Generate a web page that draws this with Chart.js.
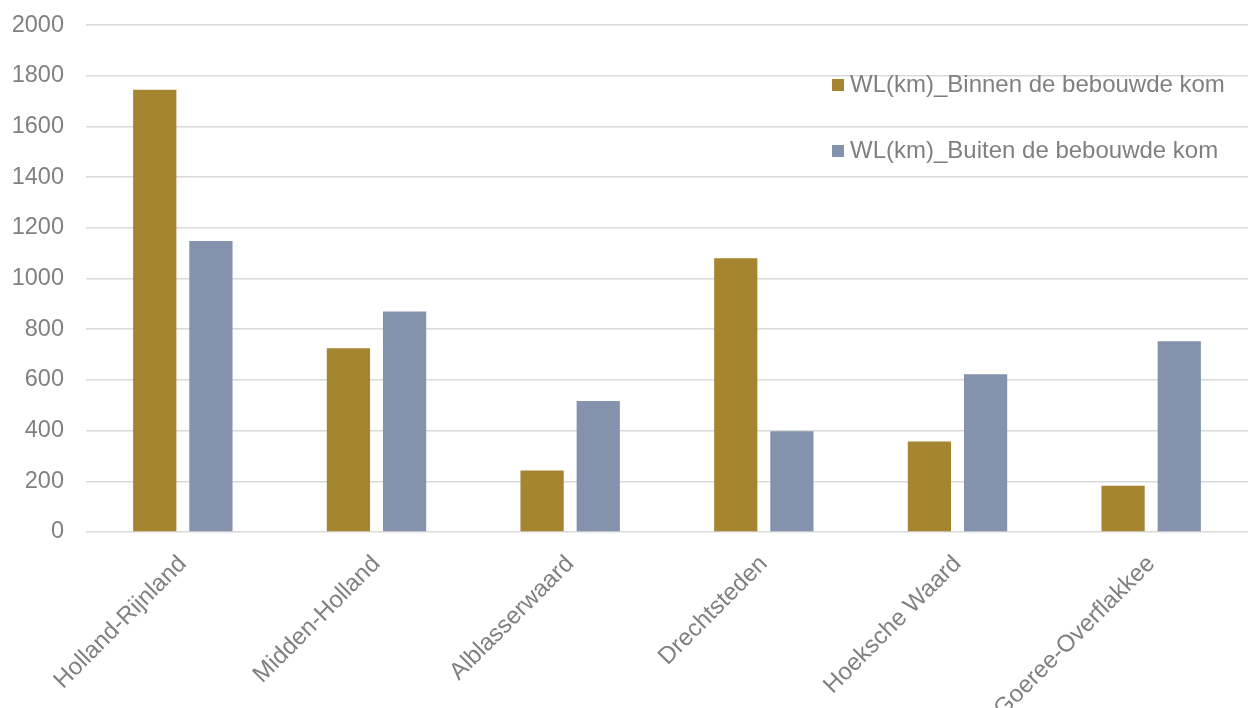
<!DOCTYPE html>
<html><head><meta charset="utf-8">
<script src="https://cdn.jsdelivr.net/npm/chart.js@4/dist/chart.umd.min.js"></script>
<style>html,body{margin:0;padding:0;background:#fff;overflow:hidden}#wrap{width:1248px;height:708px;position:relative;overflow:hidden}#c{position:absolute;left:0;top:-11px}</style>
</head><body><div id="wrap"><canvas id="c" width="1248" height="719"></canvas></div>
<script>
const categories = ["Holland-Rijnland","Midden-Holland","Alblasserwaard","Drechtsteden","Hoeksche Waard","Goeree-Overflakkee"];
const seriesNames = ["WL(km)_Binnen de bebouwde kom","WL(km)_Buiten de bebouwde kom"];
const binnen = [1745,725,243,1080,357,182];
const buiten = [1148,870,517,398,622,753];
const colors = ["#A58530","#8592AD"];
const textColor = "#808080";
const FONT = "'Liberation Sans', Arial, sans-serif";
const SHIFT = 11;

const legendPlugin = {
  id: 'customLegend',
  afterDraw(chart) {
    const ctx = chart.ctx;
    ctx.save();
    ctx.font = "24px " + FONT;
    ctx.textBaseline = 'middle';
    ctx.textAlign = 'left';
    const ys = [85 + SHIFT, 151 + SHIFT];
    seriesNames.forEach((n, i) => {
      ctx.fillStyle = colors[i];
      ctx.fillRect(832, ys[i] - 6, 12, 12);
      ctx.fillStyle = textColor;
      ctx.fillText(n, 850, ys[i]);
    });
    ctx.restore();
  }
};

new Chart(document.getElementById('c'), {
  type: 'bar',
  data: {
    labels: categories,
    datasets: [
      {label: seriesNames[0], data: binnen, backgroundColor: colors[0], categoryPercentage: 0.58, barPercentage: 0.77},
      {label: seriesNames[1], data: buiten, backgroundColor: colors[1], categoryPercentage: 0.58, barPercentage: 0.77}
    ]
  },
  options: {
    responsive: false,
    animation: false,
    layout: {padding: {top: 0, right: 0, left: 0, bottom: 0}},
    plugins: {legend: {display: false}, tooltip: {enabled: false}},
    scales: {
      x: {
        grid: {display: false},
        border: {display: false},
        ticks: {color: textColor, font: {family: FONT, size: 24}, minRotation: 45, maxRotation: 45, padding: 10, autoSkip: false},
        afterFit(s) { s.height = 176; }
      },
      y: {
        min: 0, max: 2000,
        grid: {color: '#d9d9d9', lineWidth: 1.5, drawTicks: false},
        border: {display: false},
        ticks: {stepSize: 200, color: textColor, font: {family: FONT, size: 23.5}, padding: 22, callback: v => String(v)},
        afterFit(s) { s.width = 86; }
      }
    }
  },
  plugins: [legendPlugin]
});
</script></body></html>
